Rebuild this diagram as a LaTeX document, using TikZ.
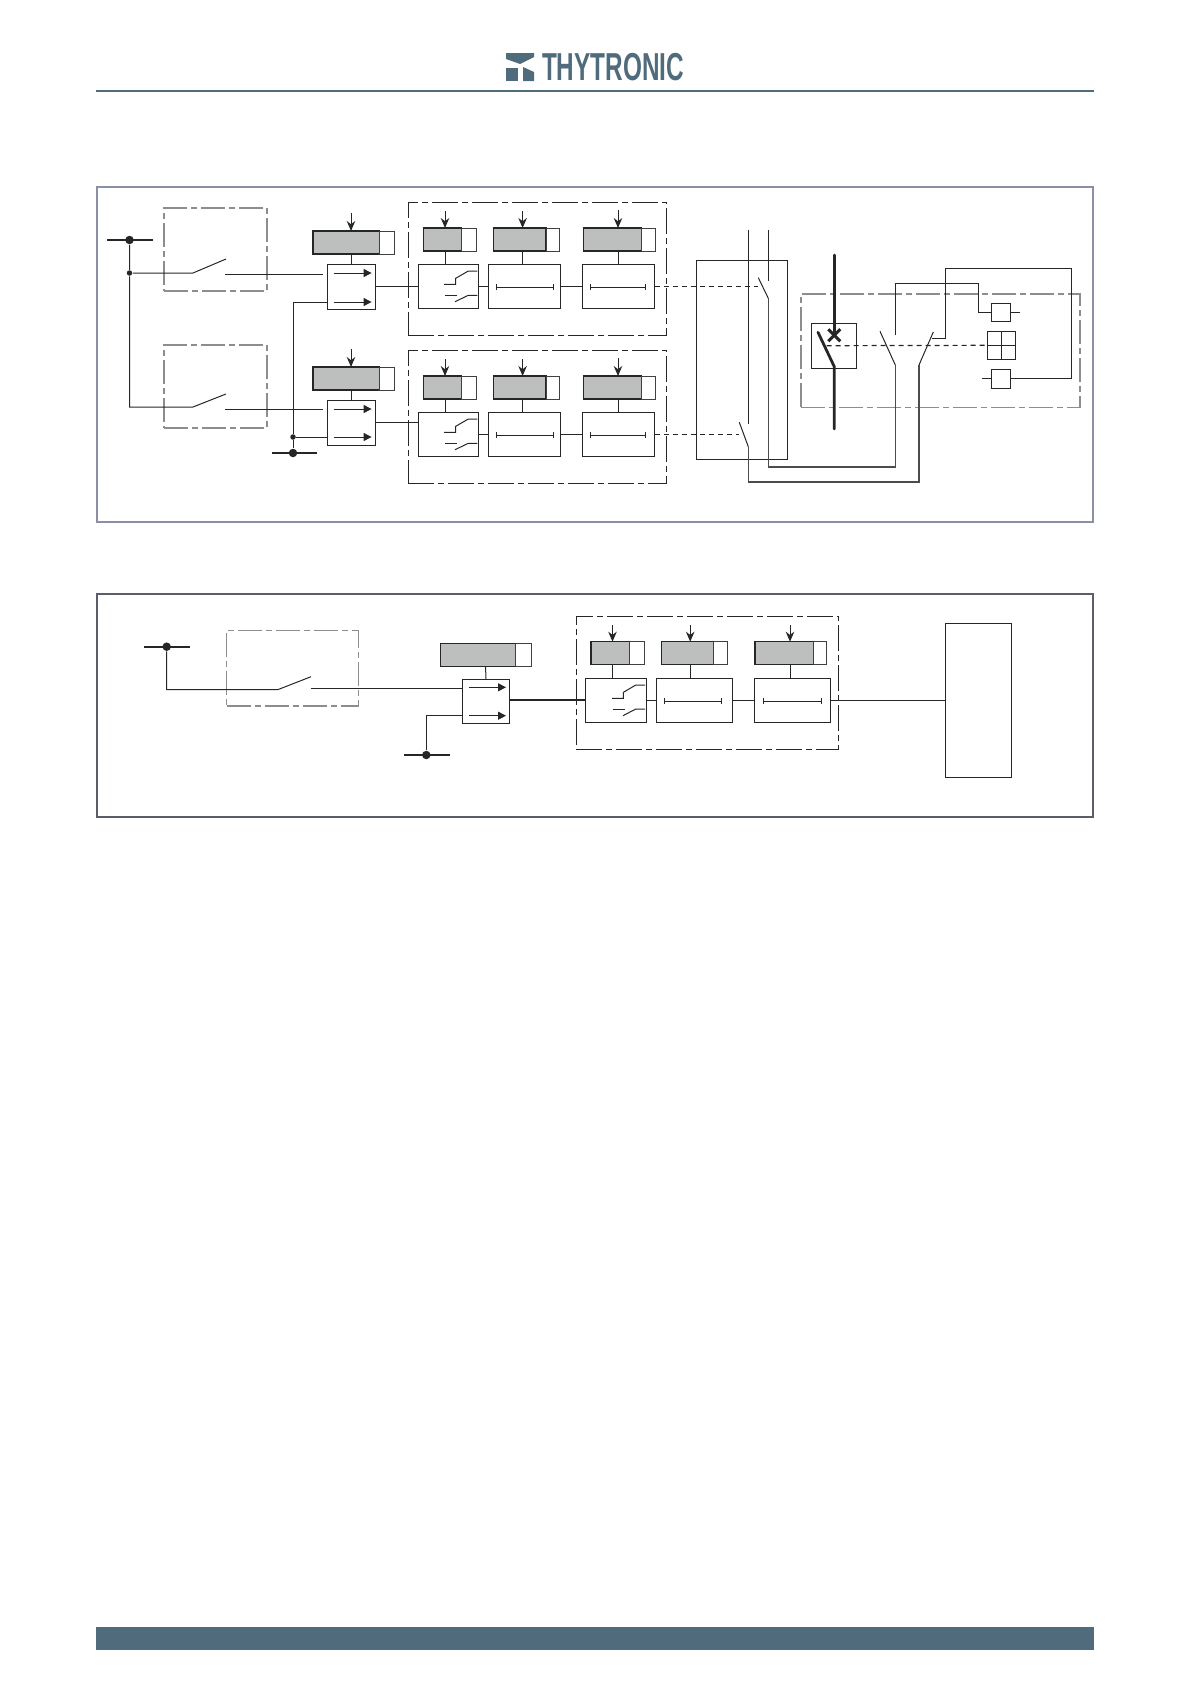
\documentclass[tikz,border=0pt]{standalone}
\usepackage{fontspec}
\usepackage{xcolor}
\setmainfont{Liberation Sans}
\usetikzlibrary{arrows.meta}
\definecolor{slate}{HTML}{4F6B7C}
\definecolor{framecol}{HTML}{8A8FA3}
\definecolor{guardcol}{HTML}{8A8E90}
\definecolor{tmrfill}{HTML}{BCBFBE}

\begin{document}
\begin{tikzpicture}[x=1pt, y=-1pt, line width=1pt, color=black!85,
	sz/.style 2 args={minimum width=#1, minimum height=#2},
	bx/.style={draw, rectangle, inner sep=0pt, outer sep=0pt},
	frm/.style={bx, draw=framecol, line width=2.4pt},
	guard/.style={bx, draw=guardcol, line width=1.1pt, dash pattern=on 24pt off 4pt on 6pt off 4pt},
	zone/.style={bx, line width=1pt, dash pattern=on 26pt off 4pt on 6pt off 4pt},
	tmrg/.style={bx, fill=tmrfill, line width=1.1pt},
	tmrw/.style={bx, line width=0.9pt, draw=black!75},
	bus/.style={circle, fill=black!85, inner sep=0pt, minimum size=8.5pt},
	tap/.style={circle, fill=black!85, inner sep=0pt, minimum size=5.5pt},
	busbar/.style={line width=1.7pt},
	feed/.style={-{Stealth[length=10pt, width=8.5pt]}},
	flow/.style={-{Triangle[length=8pt, width=8pt]}},
	span/.style={{Bar[width=6pt, length=0.8pt]}-{Bar[width=6pt, length=0.8pt]}},
	link/.style={dashed, dash pattern=on 5pt off 4pt},
	long/.style={line width=1.2pt, draw=black!70},
	heavy/.style={line width=2.8pt}]
	\useasboundingbox (0,0) rectangle (1190,1684);

	% header and footer
	\fill[slate] (506,53) -- (534,53) -- (534,57) -- (520,64) -- (506,59) -- cycle;
	\fill[slate] (506,68) -- (518,68) -- (518,81) -- (506,81) -- cycle;
	\fill[slate] (523,67) -- (534,72) -- (534,81) -- (523,81) -- cycle;
	\node[text=slate, font=\bfseries\fontsize{39}{42}\selectfont, xscale=0.624, transform shape, inner sep=0pt] (brand) at (613,67) {THYTRONIC};
	\draw[slate, line width=1.8pt] (96,91) -- (1094,91);
	\fill[slate] (96,1627) rectangle (1094,1650);

	% upper panel
	\node[frm, sz={996}{335}] (frameA) at (595,354.5) {};
	\node[guard, sz={103}{83}] (guardA) at (215.5,249.5) {};
	\node[guard, sz={103}{83}] (guardB) at (215.5,386.5) {};
	\node[zone, sz={258.5}{133}] (zoneA) at (537.25,268.5) {};
	\node[zone, sz={258.5}{133}] (zoneB) at (537.25,416.5) {};
	\node[guard, sz={279}{113.3}] (guardD) at (940.5,350.65) {};

	\node[bus] (busA) at (129.5,240) {};
	\node[tap] (tapA) at (129.5,273) {};
	\node[bus] (busB) at (293,453) {};
	\node[tap] (tapB) at (293,437) {};
	\draw[busbar] ([xshift=-22.5pt]busA.center) -- ([xshift=23.5pt]busA.center);
	\draw[busbar] ([xshift=-21.5pt]busB.center) -- ([xshift=24pt]busB.center);

	\node[bx, sz={48.5}{45}] (inA) at (351.25,286.5) {};
	\node[bx, sz={48.5}{45}] (inB) at (351.25,422.5) {};
	\node[tmrg, sz={66.4}{23}] (tmrAg) at (346.2,242.5) {};
	\node[tmrw, sz={14.6}{23}] (tmrAw) at (386.7,242.5) {};
	\node[tmrg, sz={66.4}{23}] (tmrBg) at (346.2,378.5) {};
	\node[tmrw, sz={14.6}{23}] (tmrBw) at (386.7,378.5) {};

	% contacts on the left
	\coordinate (swAa) at (193,273);
	\coordinate (swAb) at (226,259);
	\coordinate (swAc) at (224.5,274);
	\coordinate (swBa) at (193,407);
	\coordinate (swBb) at (226,394);
	\coordinate (swBc) at (224.5,409);
	\draw (busA) -- (tapA) -- (tapA |- swBa) -- (swBa) -- (swBb);
	\draw (tapA) -- (swAa) -- (swAb);
	\draw[shorten >=4pt] (swAc) -- (swAc -| inA.west);
	\draw[shorten >=4pt] (swBc) -- (swBc -| inB.west);
	\coordinate (inAlow) at (inA.west |- 0,302);
	\draw (inAlow) -| (tapB) -- (busB);
	\draw (tapB) -- (tapB -| inB.west);

	% arrows in the input blocks
	\coordinate (flAa) at (333.6,273);
	\coordinate (flAb) at (333.6,302);
	\coordinate (flBa) at (333.6,409);
	\coordinate (flBb) at (333.6,437);
	\draw[flow] (flAa) -- ++(38,0);
	\draw[flow] (flAb) -- ++(38,0);
	\draw[flow] (flBa) -- ++(38,0);
	\draw[flow] (flBb) -- ++(38,0);

	\coordinate (setA) at (351,213);
	\coordinate (setB) at (351,349);
	\draw[feed] (setA) -- (setA |- tmrAg.north);
	\draw[feed] (setB) -- (setB |- tmrBg.north);
	\draw (setA |- tmrAg.south) -- (setA |- inA.north);
	\draw (setB |- tmrBg.south) -- (setB |- inB.north);

	% delay chains
	\node[bx, sz={60.1}{44}] (a1) at (448.65,286) {};
	\node[bx, sz={71.9}{44}] (a2) at (524.55,286) {};
	\node[bx, sz={72.3}{44}] (a3) at (618.45,286) {};
	\node[bx, sz={60.1}{44}] (b1) at (448.65,434) {};
	\node[bx, sz={71.9}{44}] (b2) at (524.55,434) {};
	\node[bx, sz={72.3}{44}] (b3) at (618.45,434) {};
	\node[tmrg, sz={38.4}{23}] (a1g) at (442.5,239.5) {};
	\node[tmrw, sz={14.6}{23}] (a1w) at (469,239.5) {};
	\node[tmrg, sz={52.7}{23}] (a2g) at (519.65,239.5) {};
	\node[tmrw, sz={13.7}{23}] (a2w) at (552.85,239.5) {};
	\node[tmrg, sz={58.1}{23}] (a3g) at (612.55,239.5) {};
	\node[tmrw, sz={13.4}{23}] (a3w) at (648.3,239.5) {};
	\node[tmrg, sz={38.4}{23}] (b1g) at (442.5,387.5) {};
	\node[tmrw, sz={14.6}{23}] (b1w) at (469,387.5) {};
	\node[tmrg, sz={52.7}{23}] (b2g) at (519.65,387.5) {};
	\node[tmrw, sz={13.7}{23}] (b2w) at (552.85,387.5) {};
	\node[tmrg, sz={58.1}{23}] (b3g) at (612.55,387.5) {};
	\node[tmrw, sz={13.4}{23}] (b3w) at (648.3,387.5) {};

	\coordinate (setA1) at (445,211);
	\coordinate (setA2) at (522.6,211);
	\coordinate (setA3) at (618,210);
	\coordinate (setB1) at (445,359);
	\coordinate (setB2) at (522.6,359);
	\coordinate (setB3) at (618,358);
	\draw[feed] (setA1) -- (setA1 |- a1g.north);
	\draw[feed] (setA2) -- (setA2 |- a2g.north);
	\draw[feed] (setA3) -- (setA3 |- a3g.north);
	\draw[feed] (setB1) -- (setB1 |- b1g.north);
	\draw[feed] (setB2) -- (setB2 |- b2g.north);
	\draw[feed] (setB3) -- (setB3 |- b3g.north);
	\draw (setA1 |- a1g.south) -- (setA1 |- a1.north);
	\draw (setA2 |- a2g.south) -- (setA2 |- a2.north);
	\draw (setA3 |- a3g.south) -- (setA3 |- a3.north);
	\draw (setB1 |- b1g.south) -- (setB1 |- b1.north);
	\draw (setB2 |- b2g.south) -- (setB2 |- b2.north);
	\draw (setB3 |- b3g.south) -- (setB3 |- b3.north);

	\draw (inA.east) -- (inA.east -| a1.west);
	\draw (inB.east) -- (inB.east -| b1.west);
	\draw (a1) -- (a2);
	\draw (a2) -- (a3);
	\draw (b1) -- (b2);
	\draw (b2) -- (b3);

	% contact symbols and time bars
	\draw (444,284.3) -- (455.7,284.3) -- (455.7,278.3) -- (468.3,271) -- (477.3,271);
	\draw (445,295.3) -- (456.7,295.3);
	\draw (455,301.7) -- (468.3,295.3) -- (477.3,295.3);
	\draw (444,432.3) -- (455.7,432.3) -- (455.7,426.3) -- (468.3,419) -- (477.3,419);
	\draw (445,443.3) -- (456.7,443.3);
	\draw (455,449.7) -- (468.3,443.3) -- (477.3,443.3);
	\draw[span] (496.3,287) -- (553.7,287);
	\draw[span] (590.3,287) -- (645.7,287);
	\draw[span] (496.3,435) -- (553.7,435);
	\draw[span] (590.3,435) -- (645.7,435);

	% output relays
	\node[bx, sz={91}{199}] (relay) at (741.8,359.8) {};
	\coordinate (rlAtop) at (768.3,230);
	\coordinate (rlAend) at (768.3,281);
	\coordinate (rlAa) at (758.3,277.7);
	\coordinate (rlAb) at (768.3,298.3);
	\coordinate (rlBtop) at (748.3,230);
	\coordinate (rlBend) at (748.3,424);
	\coordinate (rlBa) at (739.3,422.3);
	\coordinate (rlBb) at (748.3,446.7);
	\coordinate (auxAa) at (880,331.3);
	\coordinate (auxAb) at (895.3,365);
	\coordinate (auxBa) at (933.3,332);
	\coordinate (auxBb) at (919,365);
	\draw (rlAtop) -- (rlAend);
	\draw (rlBtop) -- (rlBend);
	\draw (rlAa) -- (rlAb);
	\draw (rlBa) -- (rlBb);
	\draw (auxAb) -- (auxAa);
	\draw (auxBb) -- (auxBa);
	\draw[long] (rlAb) -- (rlAb |- 0,467) -| (auxAb);
	\draw[long] (rlBb) -- (rlBb |- 0,482) -| (auxBb);
	\draw[link] (a3.east |- 0,286.7) -- ++(10,0) -- (rlAa |- 0,286.7);
	\draw[link] (b3.east |- 0,434.3) -- ++(10,0) -- (rlBa |- 0,434.3);

	% breaker
	\node[bx, sz={45.4}{45.4}] (cbox) at (834,346) {};
	\coordinate (poleA) at (834.3,255);
	\coordinate (poleB) at (834.3,333.3);
	\coordinate (poleC) at (834.3,366.7);
	\coordinate (poleD) at (834.3,429);
	\coordinate (poleE) at (818,332.3);
	\draw[heavy, line cap=round] (poleA) -- (poleB);
	\draw[heavy, line cap=round] (poleE) -- (poleC) -- (poleD);
	\draw[line width=3pt] (828.3,329.3) -- (840.3,341.3);
	\draw[line width=3pt] (828.3,341.3) -- (840.3,329.3);

	\node[bx, sz={28.4}{28}] (grid) at (1001.5,345.3) {};
	\draw (grid.north) -- (grid.south);
	\draw (grid.west) -- (grid.east);
	\draw[link, line width=1.2pt] (826.7,345.7) -- (grid.west);

	\node[bx, sz={19}{18}] (coilA) at (1000.8,312.3) {};
	\node[bx, sz={19}{19}] (coilB) at (1000.8,378.8) {};
	\coordinate (coilAout) at (1020,312.3);
	\coordinate (coilBin) at (981.7,378.8);
	\coordinate (wireA) at (895.3,335);
	\coordinate (wireB) at (931.7,338.3);
	\draw (coilA) -- (coilAout);
	\draw (coilBin) -- (coilB);
	\draw (wireA) |- (978.7,283.3) |- (coilA.west);
	\draw (coilB.east) -| (1071.7,268.3) -| (945.3,338.3) -- (wireB);

	% lower panel
	\node[bx, draw=framecol!65!black, line width=2.4pt, sz={996}{223}] (frameB) at (595,705.5) {};
	\node[guard, sz={132}{75.7}] (guardC) at (292.7,668.15) {};
	\node[zone, sz={262}{133}] (zoneC) at (707.2,682.8) {};
	\node[bus] (busC) at (166.7,646.7) {};
	\node[bus] (busD) at (426.3,755) {};
	\draw[busbar] ([xshift=-22.4pt]busC.center) -- ([xshift=23pt]busC.center);
	\draw[busbar] ([xshift=-22pt]busD.center) -- ([xshift=23.7pt]busD.center);

	\node[bx, sz={47}{44}] (cin) at (485.8,701.3) {};
	\node[tmrg, sz={75}{22.6}] (cing) at (478.2,655) {};
	\node[tmrw, sz={16}{22.6}] (cinw) at (523.7,655) {};
	\coordinate (swCa) at (277.7,689.7);
	\coordinate (swCb) at (311,676.7);
	\coordinate (swCc) at (311,688.3);
	\draw (busC) |- (swCa) -- (swCb);
	\draw (swCc) -- (swCc -| cin.west);
	\draw (busD) |- (cin.west |- 0,715.3);
	\draw (cing.south -| 485.7,0) -- (cin.north);
	\draw[flow] (469,687.3) -- ++(37,0);
	\draw[flow] (469,715.7) -- ++(37,0);

	\node[bx, sz={61.3}{44}] (c1) at (616.15,700.3) {};
	\node[bx, sz={75.8}{44}] (c2) at (694.3,700.3) {};
	\node[bx, sz={76.5}{44}] (c3) at (792.45,700.3) {};
	\node[tmrg, sz={38.6}{23}] (c1g) at (610.3,653.2) {};
	\node[tmrw, sz={14.4}{23}] (c1w) at (636.8,653.2) {};
	\node[tmrg, sz={52.4}{23}] (c2g) at (687.4,653.2) {};
	\node[tmrw, sz={14.1}{23}] (c2w) at (720.65,653.2) {};
	\node[tmrg, sz={58.4}{23}] (c3g) at (784.2,653.2) {};
	\node[tmrw, sz={13.5}{23}] (c3w) at (820.15,653.2) {};
	\coordinate (setC1) at (612.5,625);
	\coordinate (setC2) at (690.2,625);
	\coordinate (setC3) at (790,625);
	\draw[feed] (setC1) -- (setC1 |- c1g.north);
	\draw[feed] (setC2) -- (setC2 |- c2g.north);
	\draw[feed] (setC3) -- (setC3 |- c3g.north);
	\draw (setC1 |- c1g.south) -- (setC1 |- c1.north);
	\draw (setC2 |- c2g.south) -- (setC2 |- c2.north);
	\draw (setC3 |- c3g.south) -- (setC3 |- c3.north);

	\draw[line width=2pt] (c1.west -| cin.east) -- (c1.west);
	\draw (c1) -- (c2);
	\draw (c2) -- (c3);
	\node[bx, sz={66.1}{154}] (outbox) at (978.35,700.3) {};
	\draw (c3) -- (outbox);

	\draw (612,698.3) -- (623.4,698.3) -- (623.4,692.3) -- (635.8,685) -- (645,685);
	\draw (612.7,709) -- (624.7,709);
	\draw (623,715.7) -- (635.8,709) -- (645,709);
	\draw[span] (664.3,701.3) -- (721.5,701.3);
	\draw[span] (762.5,701.3) -- (821.7,701.3);
\end{tikzpicture}
\end{document}
